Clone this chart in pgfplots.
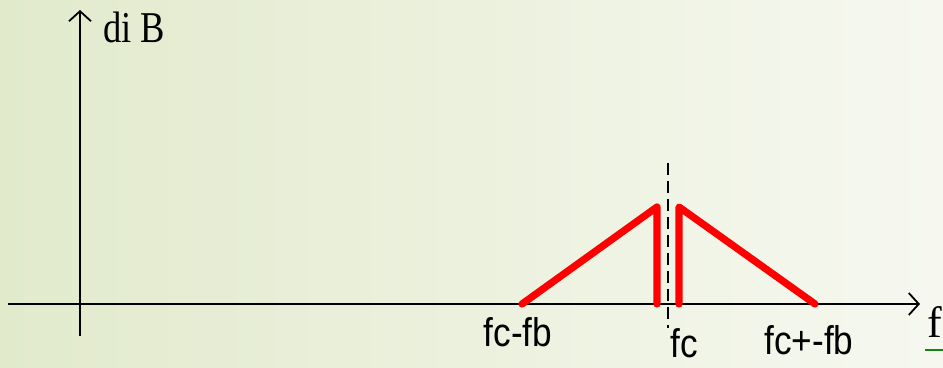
\documentclass[border=0pt]{standalone}
\usepackage{pgfplots}
\pgfplotsset{compat=1.18}
\usepackage{fontspec}
\setmainfont{Liberation Serif}
\newfontfamily\arialf{Liberation Sans}
\usetikzlibrary{arrows.meta}
\definecolor{bgL}{RGB}{226,234,204}
\definecolor{bgR}{RGB}{246,248,240}
\definecolor{redl}{RGB}{255,0,0}
\definecolor{greenl}{RGB}{20,130,20}
\begin{document}
\begin{tikzpicture}
\begin{axis}[
  scale only axis, width=471.5pt, height=184pt,
  xmin=0, xmax=943, ymin=0, ymax=368,
  hide axis, clip=false,
]
\fill[left color=bgL, right color=bgR] (axis cs:0,0) rectangle (axis cs:943,368);
% axes
\addplot[black, line width=1.1pt, -{Straight Barb[length=5pt,width=11pt,line width=0.9pt]}] coordinates {(8,64) (920,64)};
\addplot[black, line width=1.1pt, -{Straight Barb[length=5pt,width=11pt,line width=0.9pt]}] coordinates {(80,32) (80,358)};
% dashed centre
\addplot[black, line width=1pt, dash pattern=on 6pt off 3pt] coordinates {(668,205) (668,40)};
% red sidebands
\addplot[redl, line width=3.6pt, line cap=round, line join=round] coordinates {(522,64) (657,161) (657,64)};
\addplot[redl, line width=3.6pt, line cap=round, line join=round] coordinates {(679,64) (679,161) (815,64)};
% green underline
\addplot[greenl, line width=1.2pt] coordinates {(925,18) (950,18)};
% labels
\node[anchor=base, xscale=0.88, font=\arialf\fontsize{20pt}{24pt}\selectfont] at (axis cs:518,21) {fc-fb};
\node[anchor=base, xscale=0.88, font=\arialf\fontsize{20pt}{24pt}\selectfont] at (axis cs:684,10) {fc};
\node[anchor=base, xscale=0.88, font=\arialf\fontsize{20pt}{24pt}\selectfont] at (axis cs:809,13) {fc+-fb};
\node[anchor=base west, xscale=0.83, inner sep=0pt, font=\fontsize{22pt}{26pt}\selectfont] at (axis cs:103,325) {di B};
\node[anchor=base west, inner sep=0pt, font=\fontsize{22pt}{26pt}\selectfont] at (axis cs:927,30) {f};
\end{axis}
\pgfresetboundingbox
\useasboundingbox (current axis.south west) rectangle (current axis.north east);
\end{tikzpicture}
\end{document}
